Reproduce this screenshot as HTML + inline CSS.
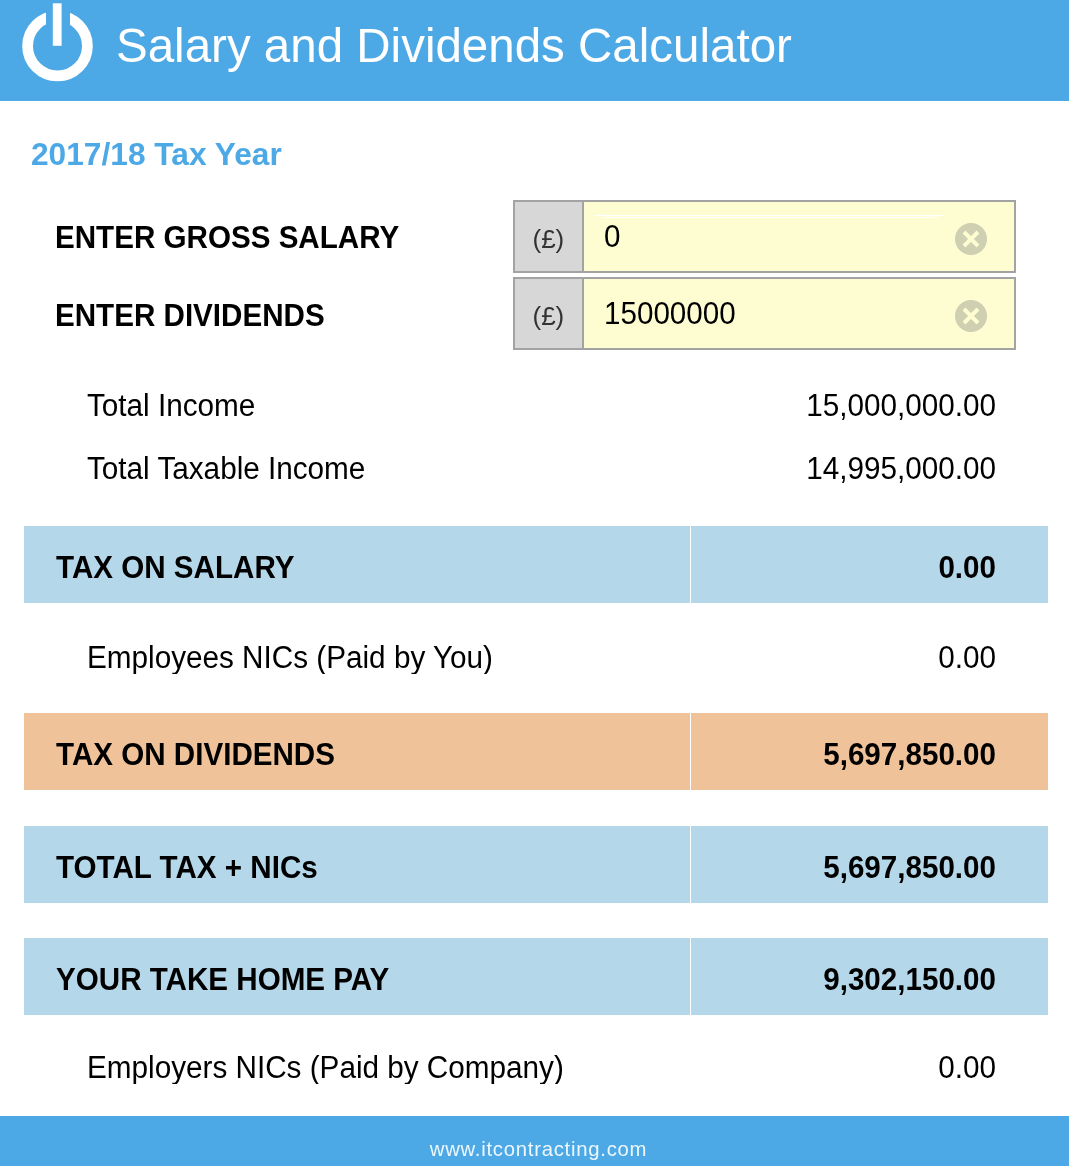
<!DOCTYPE html>
<html><head><meta charset="utf-8">
<style>
*{margin:0;padding:0;box-sizing:border-box}
html,body{width:1069px;height:1166px;overflow:hidden;-webkit-font-smoothing:antialiased;background:#fff;font-family:"Liberation Sans",sans-serif;color:#000}
.abs{position:absolute;white-space:nowrap;line-height:1}
#hdr{position:absolute;left:0;top:0;width:1069px;height:101px;background:#4da9e6}
#title{left:116px;top:22.3px;font-size:47.5px;color:#fff}
#year{left:31px;top:138.5px;font-size:31.7px;font-weight:bold;color:#4da9e6}
.lbl{font-size:29.6px;font-weight:bold}
.inp{position:absolute;left:513px;width:503px;height:73px;border:2px solid #a3a3a3;background:#fefdd2}
.pre{position:absolute;left:0;top:0;width:69px;height:69px;background:#d7d7d7;border-right:2px solid #a3a3a3}
.pre span{position:absolute;left:17.5px;top:24px;font-size:26px;color:#333;line-height:1}
.val{position:absolute;left:89px;top:19px;font-size:29.6px;line-height:1}
.clr{position:absolute;left:439px;top:19.5px}
.row{font-size:29.7px}
.num{text-align:right;width:400px}
.band{position:absolute;left:24px;width:1024px;height:77px;background:#b4d8ea}
.band .div{position:absolute;left:666px;top:0;width:1px;height:100%;background:#fff}
.band .t{position:absolute;left:32px;top:26px;line-height:1;font-size:29.6px;font-weight:bold;white-space:nowrap}
.band .n{position:absolute;right:52px;top:26px;line-height:1;font-size:29.6px;font-weight:bold;white-space:nowrap}
#ftr{position:absolute;left:0;top:1116px;width:1069px;height:50px;background:#4da9e6}
#ftr span{position:absolute;left:4px;width:1069px;top:23px;text-align:center;color:#eef7fd;font-size:20.3px;letter-spacing:0.75px;line-height:1}
body>*{will-change:transform}
.lbl,.row,.val,.band .t,.band .n{transform:scaleY(1.06);transform-origin:50% 50%}
</style></head><body>
<div id="hdr">
  <svg class="abs" style="left:0;top:0" width="110" height="101" viewBox="0 0 110 101">
    <circle cx="57.5" cy="46" r="29.9" fill="none" stroke="#fff" stroke-width="10.8"/>
    <rect x="46" y="0" width="24" height="46" fill="#4da9e6"/>
    <rect x="52.8" y="3.3" width="8.8" height="42.5" fill="#fff"/>
  </svg>
  <div id="title" class="abs">Salary and Dividends Calculator</div>
</div>
<div id="year" class="abs">2017/18 Tax Year</div>

<div class="abs lbl" style="left:54.8px;top:221.5px">ENTER GROSS SALARY</div>
<div class="inp" style="top:200px"><div class="pre"><span>(£)</span></div>
  <svg class="abs" style="left:79px;top:11px" width="360" height="6"><rect x="0" y="2" width="350" height="1" fill="#fff"/><rect x="8" y="4" width="336" height="1" fill="#fff"/></svg>
  <div class="val">0</div>
  <svg class="clr" width="34" height="34" viewBox="0 0 34 34"><circle cx="17" cy="17" r="16" fill="#cfcfb2"/><path d="M10 10 L24 24 M24 10 L10 24" stroke="#fefdd2" stroke-width="4"/></svg>
</div>
<div class="abs lbl" style="left:54.8px;top:299.5px">ENTER DIVIDENDS</div>
<div class="inp" style="top:277px"><div class="pre"><span>(£)</span></div><div class="val">15000000</div>
  <svg class="clr" width="34" height="34" viewBox="0 0 34 34"><circle cx="17" cy="17" r="16" fill="#cfcfb2"/><path d="M10 10 L24 24 M24 10 L10 24" stroke="#fefdd2" stroke-width="4"/></svg>
</div>

<div class="abs row" style="left:87px;top:389.6px">Total Income</div>
<div class="abs row num" style="left:596px;top:389.6px">15,000,000.00</div>
<div class="abs row" style="left:87px;top:452.6px">Total Taxable Income</div>
<div class="abs row num" style="left:596px;top:452.6px">14,995,000.00</div>

<div class="band" style="top:526px"><div class="div"></div><div class="t">TAX ON SALARY</div><div class="n">0.00</div></div>
<div class="abs row" style="left:87px;top:642.2px">Employees NICs (Paid by You)</div>
<div class="abs row num" style="left:596px;top:642.2px">0.00</div>
<div class="band" style="top:713px;background:#f0c29a"><div class="div"></div><div class="t">TAX ON DIVIDENDS</div><div class="n">5,697,850.00</div></div>
<div class="band" style="top:826px"><div class="div"></div><div class="t">TOTAL TAX + NICs</div><div class="n">5,697,850.00</div></div>
<div class="band" style="top:938px"><div class="div"></div><div class="t">YOUR TAKE HOME PAY</div><div class="n">9,302,150.00</div></div>
<div class="abs row" style="left:87px;top:1052.3px">Employers NICs (Paid by Company)</div>
<div class="abs row num" style="left:596px;top:1052.3px">0.00</div>

<div id="ftr"><span>www.itcontracting.com</span></div>
</body></html>
